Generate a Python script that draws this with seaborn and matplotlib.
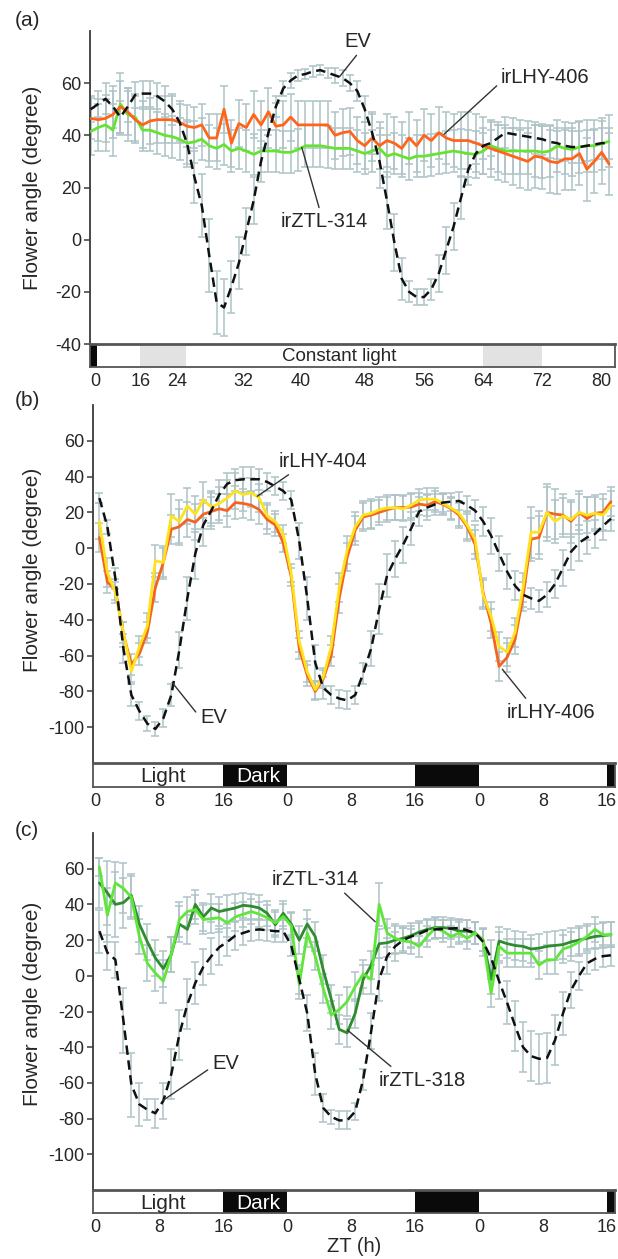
import numpy as np
import matplotlib.pyplot as plt
import seaborn as sns

sns.set_style("ticks")
plt.rcParams['font.family'] = ['Liberation Sans', 'DejaVu Sans']
plt.rcParams['axes.unicode_minus'] = False

# ---------------- panel (a): constant light, hourly from h 11 to 81 ----------------
hours_a = list(range(11, 82))

ev_a = [50, 52, 54, 51, 47, 51, 55.5, 56, 56, 55,
        53, 50, 45, 37, 24, 13, -6, -24, -26, -18,
        -9, 3, 15, 30, 41, 51, 58, 61, 63, 63.5,
        64.5, 65, 64, 63, 62, 60, 57, 50, 41, 30,
        15, -1, -15, -20, -22, -22, -19, -13, -4, 5,
        16, 27, 33, 36, 37, 39, 41, 40.5, 40, 39.5,
        39, 38.5, 37.5, 37, 36, 35.5, 35.5, 36, 36.5, 37,
        37]
ev_a_err = [5, 5, 6, 8, 6, 6, 5, 5, 5, 5,
            6, 6, 7, 9, 10, 12, 14, 12, 11, 10,
            10, 9, 9, 8, 6, 4, 3, 3, 2, 2,
            2, 2, 2, 3, 3, 3, 4, 5, 8, 10,
            11, 11, 8, 4, 3, 3, 4, 7, 9, 9,
            8, 6, 4, 5, 5, 5, 6, 6, 6, 6,
            6, 6, 6, 6, 6, 6, 6, 6, 6, 6,
            6]
lhy406_a = [46.5, 46, 46.5, 48, 51, 49, 46, 44, 45.5, 46,
            46, 46, 45, 43.5, 43, 44, 39, 39, 50, 37,
            44.5, 43, 48, 44, 49, 43.5, 44, 47, 44, 44,
            44, 44, 44, 40, 41, 41.5, 38, 36, 39, 36,
            38, 37, 35, 39, 36, 40, 38, 41, 39, 38,
            38, 38, 37, 36, 35, 34, 33, 32, 31, 30,
            32, 31.5, 30, 29.5, 31, 31, 33, 27, 30, 33.5,
            29]
lhy406_a_err = [8, 8, 9, 9, 10, 9, 9, 9, 9, 9,
                9, 9, 8, 8, 8, 8, 9, 9, 9, 9,
                9, 9, 9, 9, 9, 9, 9, 9, 9, 9,
                9, 9, 9, 9, 9, 9, 9, 9, 9, 9,
                10, 10, 10, 10, 10, 10, 10, 10, 10, 10,
                11, 11, 11, 11, 11, 11, 11, 11, 11, 11,
                12, 12, 12, 12, 12, 12, 12, 12, 12, 12,
                12]
ztl314_a = [41.5, 43, 44, 42, 52, 48, 47, 42, 42, 41,
            40, 39.5, 38.5, 37, 37.5, 38.5, 36, 35, 36.5, 34,
            35, 34, 32.7, 34, 34, 34, 33.5, 33.5, 34.5, 36,
            36, 36, 35.5, 35, 35, 35, 34, 33, 34, 35,
            32, 33, 32, 31, 32, 32, 32.5, 33, 33.5, 34,
            33.5, 33, 32.7, 34, 36, 35, 34, 34, 34, 34,
            34, 33.5, 34, 36, 35, 34.6, 35.5, 36, 36, 36.8,
            37.7]
ztl314_a_err = [9, 9, 10, 10, 12, 10, 9, 8, 8, 8,
                8, 8, 8, 8, 8, 8, 8, 8, 8, 8,
                8, 8, 8, 8, 8, 8, 8, 8, 8, 8,
                8, 8, 8, 8, 8, 8, 8, 8, 8, 8,
                8, 8, 8, 8, 8, 8, 8, 8, 8, 8,
                9, 9, 9, 9, 9, 9, 9, 9, 9, 9,
                10, 10, 10, 10, 10, 10, 10, 10, 10, 10,
                10]

# ---------------- panels (b) and (c): hourly from 0.5 to 64.5 ----------------
hours_bc = [h + 0.5 for h in range(65)]

ev_b = [28, 12, -17, -56, -82, -91, -98, -101, -95, -82,
        -57, -28, -3, 13, 21, 30, 36, 38, 38.5, 38.5,
        38.5, 37, 34.5, 32, 27, 4, -28, -64, -78, -82,
        -84, -85, -82, -70, -56, -34, -15, -6, 2, 11,
        20.5, 22.7, 24.5, 25.5, 26, 26.4, 24, 21, 15, 7,
        -3, -13, -21, -26, -28, -29.4, -26, -20, -11, -2,
        3, 6, 8, 12.5, 16.5]
ev_b_err = [3, 4, 6, 8, 6, 5, 4, 4, 5, 6,
            10, 12, 14, 12, 10, 8, 6, 6, 7, 7,
            6, 5, 5, 5, 5, 10, 12, 10, 6, 5,
            5, 5, 5, 6, 10, 14, 12, 10, 10, 9,
            8, 7, 6, 5, 5, 5, 5, 6, 8, 10,
            10, 10, 8, 7, 6, 6, 7, 8, 10, 10,
            10, 9, 8, 8, 7]
lhy406_b = [6, -19, -23, -48, -65, -59, -47, -22, -8, 10.6,
            12, 16, 14.5, 19, 20.5, 22, 21, 25.5, 25, 24,
            21.5, 16, 13, 3, -16, -56, -71, -80, -73, -60,
            -28, -5, 10, 17.5, 18.5, 20, 21.5, 22.7, 22.7, 23,
            24.6, 24, 26, 24.5, 22, 18.5, 12, 2, -24.7, -42,
            -66, -61, -51, -27, 5, 6, 20, 19, 18.5, 15,
            20, 16.5, 19.5, 20, 26]
lhy406_b_err = [8, 6, 6, 7, 6, 6, 6, 8, 8, 8,
                10, 10, 10, 8, 8, 8, 9, 9, 8, 8,
                8, 8, 6, 5, 5, 6, 6, 5, 5, 6,
                8, 8, 8, 8, 8, 7, 7, 7, 7, 7,
                6, 6, 6, 6, 6, 7, 8, 8, 8, 8,
                8, 8, 8, 8, 12, 12, 14, 14, 12, 12,
                12, 12, 10, 10, 8]
lhy404_b = [15, -13.6, -24.7, -47, -69, -55, -43.4, -7, -8, 18,
            15, 23.6, 19, 27, 23, 25, 28, 32, 30, 31,
            28, 18, 15, 8, -14, -52, -69, -79, -72, -55,
            -22, -1, 12, 18.5, 19.5, 21.5, 22.5, 22.7, 22, 24,
            27, 27.4, 27.4, 25, 22.5, 19.5, 13, 5, -26, -38,
            -55, -58, -47, -22, 8.8, 9, 20, 15, 18, 16,
            20, 18.5, 19.5, 18.5, 24]
lhy404_b_err = [10, 8, 6, 6, 6, 6, 7, 9, 9, 12,
                12, 10, 10, 10, 9, 9, 10, 10, 9, 8,
                8, 7, 6, 5, 5, 6, 6, 5, 5, 6,
                8, 8, 8, 8, 8, 7, 7, 7, 7, 7,
                6, 6, 6, 6, 6, 7, 8, 8, 8, 8,
                8, 8, 8, 8, 14, 12, 16, 12, 10, 10,
                10, 10, 9, 9, 8]

ev_c = [25, 13, 9, -25, -61, -72, -75, -77, -70, -55,
        -33, -16, -4, 5, 11, 16, 19, 22.5, 24, 25.5,
        26, 25.5, 25, 25, 17, -2, -21, -55, -74, -79,
        -81, -81, -76, -58, -31, -2, 11, 16.5, 20, 22,
        23.5, 25.5, 26, 26.2, 26.5, 26.8, 25.5, 24, 19, 10,
        -3, -15, -28, -40, -45, -46.5, -46, -36, -21, -8,
        0, 7, 9.5, 11, 11.5]
ev_c_err = [12, 10, 10, 18, 18, 12, 6, 8, 10, 14,
            14, 14, 12, 10, 10, 10, 8, 8, 7, 6,
            6, 6, 6, 6, 6, 8, 10, 12, 8, 4,
            5, 5, 5, 6, 10, 12, 10, 8, 7, 6,
            6, 6, 5, 5, 5, 5, 6, 6, 8, 10,
            10, 12, 14, 14, 14, 14, 14, 14, 12, 10,
            8, 6, 6, 6, 6]
ztl318_c = [52, 46.5, 40, 41, 45, 29, 19, 10, 4, 12,
            29, 26, 40, 33, 38, 36, 37, 38, 39.5, 39,
            38, 35, 28.6, 35, 29, 20, 29, 22, 3.4, -13,
            -30, -32, -21, -2, 6, 18, 18.5, 20, 21, 22.5,
            24.5, 26, 27, 27, 26.5, 25, 25, 24, 20, -2,
            19.5, 18, 17, 16.5, 15, 15.5, 16.5, 17, 17.5, 19,
            20, 21, 22, 22.5, 23]
ztl318_c_err = [14, 18, 18, 14, 12, 10, 10, 10, 10, 10,
                10, 8, 8, 8, 8, 8, 8, 8, 7, 7,
                7, 7, 7, 7, 7, 8, 8, 8, 8, 8,
                8, 8, 8, 8, 8, 8, 8, 8, 7, 7,
                6, 6, 6, 6, 6, 6, 6, 6, 6, 8,
                8, 8, 8, 8, 8, 8, 8, 8, 8, 8,
                8, 7, 7, 7, 7]
ztl314_c = [61, 34, 52, 49, 44, 22, 7, 1.5, -3, 12,
            31.5, 36, 37, 31.5, 32, 32.5, 29.6, 33, 34.5, 36,
            34.5, 32.5, 29.6, 33.3, 28, -5, 24, 11, -7, -22,
            -19, -14.4, -6, 1, -2, 40, 24, 21, 19.5, 19,
            16.5, 22, 26.6, 25, 22, 24, 21, 24, 20, -9.7,
            16.5, 12.7, 12.7, 12.7, 12.7, 6, 9, 9, 15, 16.5,
            19, 22, 26, 23, 23]
ztl314_c_err = [5, 15, 12, 14, 12, 10, 10, 10, 12, 10,
                10, 8, 8, 8, 8, 8, 8, 8, 7, 7,
                7, 7, 7, 7, 7, 8, 8, 8, 8, 8,
                8, 8, 8, 8, 8, 12, 8, 8, 7, 7,
                6, 6, 6, 6, 6, 6, 6, 6, 6, 8,
                8, 8, 8, 8, 8, 8, 8, 8, 8, 8,
                8, 7, 7, 7, 7]

# light / dark bars
a_xlim = (10.9, 81.8)
a_dark = [(10.9, 11.8)]
a_subjective_night = [(17.7, 23.9), (64, 72)]
a_tick_pos = [11.6, 17.7, 22.6, 31.6, 39.3, 48, 56, 64, 72, 80]
a_tick_lab = ['0', '16', '24', '32', '40', '48', '56', '64', '72', '80']

bc_xlim = (-0.3, 65.0)
bc_dark = [(16, 24), (40, 48), (64, 72)]
bc_tick_pos = [0, 8, 16, 24, 32, 40, 48, 56, 64]
bc_tick_lab = ['0', '8', '16', '0', '8', '16', '0', '8', '16']

ERR_COLOR = '#aec3c8'
SPINE = '#3a3a3a'

W, H = 618, 1259
fig = plt.figure(figsize=(W / 100, H / 100), dpi=100)


def px_axes(left, right, top, bottom):
    return fig.add_axes([left / W, 1 - bottom / H, (right - left) / W, (bottom - top) / H])


def draw_series(ax, x, y, err, color, lw=2.0, dashed=False, z=3):
    ax.errorbar(x, y, yerr=err, fmt='none', ecolor=ERR_COLOR, elinewidth=1.1,
                capsize=2.6, capthick=1.1, zorder=1)
    kw = dict(linestyle=(0, (3.8, 2.2))) if dashed else {}
    sns.lineplot(x=x, y=y, ax=ax, color=color, lw=lw, errorbar=None, zorder=z, **kw)


def style_main(ax, xlim, ylim, yticks, label_xy):
    ax.set_xlim(*xlim)
    ax.set_ylim(*ylim)
    ax.set_yticks(yticks)
    ax.set_xticks([])
    for s in ['top', 'right', 'bottom']:
        ax.spines[s].set_visible(False)
    ax.spines['left'].set_color(SPINE)
    ax.spines['left'].set_linewidth(1.3)
    ax.tick_params(axis='y', labelsize=13, length=4, width=1.1, color=SPINE, pad=2)
    ax.set_xlabel('')
    ax.set_ylabel('Flower angle (degree)', fontsize=15)
    ax.yaxis.set_label_coords(*label_xy)


def style_bar(ax, xlim, tick_pos, tick_lab):
    ax.set_xlim(*xlim)
    ax.set_ylim(0, 1)
    ax.set_yticks([])
    ax.set_xticks(tick_pos)
    ax.set_xticklabels(tick_lab)
    ax.tick_params(axis='x', length=0, labelsize=13, pad=4)
    for s in ax.spines.values():
        s.set_color('#555555')
        s.set_linewidth(1.3)
    ax.spines['top'].set_linewidth(2.0)


def note(ax, text, xy, xytext, relpos, ha='left'):
    ax.annotate(text, xy=xy, xytext=xytext, textcoords='data', fontsize=14.5,
                ha=ha, va='center', zorder=6,
                arrowprops=dict(arrowstyle='-', color='#333333', lw=1.0,
                                shrinkA=1, shrinkB=0, relpos=relpos))


# ---------------- (a) ----------------
ax_a = px_axes(90, 615, 31, 344)
draw_series(ax_a, hours_a, ztl314_a, ztl314_a_err, '#66e233', z=3)
draw_series(ax_a, hours_a, lhy406_a, lhy406_a_err, '#ff6418', z=4)
draw_series(ax_a, hours_a, ev_a, ev_a_err, '#111111', lw=1.8, dashed=True, z=5)
style_main(ax_a, a_xlim, (-40, 80), [-40, -20, 0, 20, 40, 60], (-0.091, 0.5))
note(ax_a, 'EV', (44.6, 62.5), (47.0, 76), (0.6, 0.0), ha='center')
note(ax_a, 'irLHY-406', (58.7, 40.4), (66.4, 62.3), (0.0, 0.25))
note(ax_a, 'irZTL-314', (39.5, 35.4), (42.6, 6.9), (0.45, 1.0), ha='center')

bar_a = px_axes(90, 615, 344, 367)
for x0, x1 in a_subjective_night:
    bar_a.axvspan(x0, x1, color='#e2e2e2', lw=0)
for x0, x1 in a_dark:
    bar_a.axvspan(x0, x1, color='#0a0a0a', lw=0)
bar_a.text(44.5, 0.45, 'Constant light', ha='center', va='center', fontsize=13.5)
style_bar(bar_a, a_xlim, a_tick_pos, a_tick_lab)

# ---------------- (b) ----------------
ax_b = px_axes(93, 615, 405, 763)
draw_series(ax_b, hours_bc, lhy406_b, lhy406_b_err, '#f5641f', z=3)
draw_series(ax_b, hours_bc, lhy404_b, lhy404_b_err, '#ffe21c', z=4)
draw_series(ax_b, hours_bc, ev_b, ev_b_err, '#111111', lw=1.8, dashed=True, z=5)
style_main(ax_b, bc_xlim, (-120, 80), [-100, -80, -60, -40, -20, 0, 20, 40, 60], (-0.098, 0.54))
note(ax_b, 'irLHY-404', (20.25, 29), (22.9, 48.6), (0.18, 0.0))
note(ax_b, 'EV', (9.6, -75), (14.75, -94.4), (0.0, 0.5), ha='center')
note(ax_b, 'irLHY-406', (50.9, -67.6), (51.5, -91.6), (0.25, 1.0))

bar_b = px_axes(93, 615, 763, 787)
for x0, x1 in bc_dark:
    bar_b.axvspan(x0, x1, color='#0a0a0a', lw=0)
bar_b.text(8.5, 0.42, 'Light', ha='center', va='center', fontsize=15)
bar_b.text(20.4, 0.42, 'Dark', ha='center', va='center', fontsize=15, color='white')
style_bar(bar_b, bc_xlim, bc_tick_pos, bc_tick_lab)

# ---------------- (c) ----------------
ax_c = px_axes(93, 615, 833, 1190)
draw_series(ax_c, hours_bc, ztl318_c, ztl318_c_err, '#2e8b2e', z=3)
draw_series(ax_c, hours_bc, ztl314_c, ztl314_c_err, '#5ee63a', z=4)
draw_series(ax_c, hours_bc, ev_c, ev_c_err, '#111111', lw=1.8, dashed=True, z=5)
style_main(ax_c, bc_xlim, (-120, 80), [-100, -80, -60, -40, -20, 0, 20, 40, 60], (-0.098, 0.52))
note(ax_c, 'irZTL-314', (35, 30.3), (22.1, 54), (0.78, 0.0))
note(ax_c, 'EV', (8.5, -69.7), (14.6, -48.9), (0.0, 0.3))
note(ax_c, 'irZTL-318', (31.5, -30.3), (35.4, -58.4), (0.2, 1.0))

bar_c = px_axes(93, 615, 1190, 1213)
for x0, x1 in bc_dark:
    bar_c.axvspan(x0, x1, color='#0a0a0a', lw=0)
bar_c.text(8.5, 0.42, 'Light', ha='center', va='center', fontsize=15)
bar_c.text(20.4, 0.42, 'Dark', ha='center', va='center', fontsize=15, color='white')
style_bar(bar_c, bc_xlim, bc_tick_pos, bc_tick_lab)
bar_c.set_xlabel('ZT (h)', fontsize=14.5, labelpad=1)

# panel letters
for lab, y in [('(a)', 20), ('(b)', 400), ('(c)', 830)]:
    fig.text(27 / W, 1 - y / H, lab, fontsize=15, ha='center', va='center')

fig.savefig('out.png', dpi=100)
